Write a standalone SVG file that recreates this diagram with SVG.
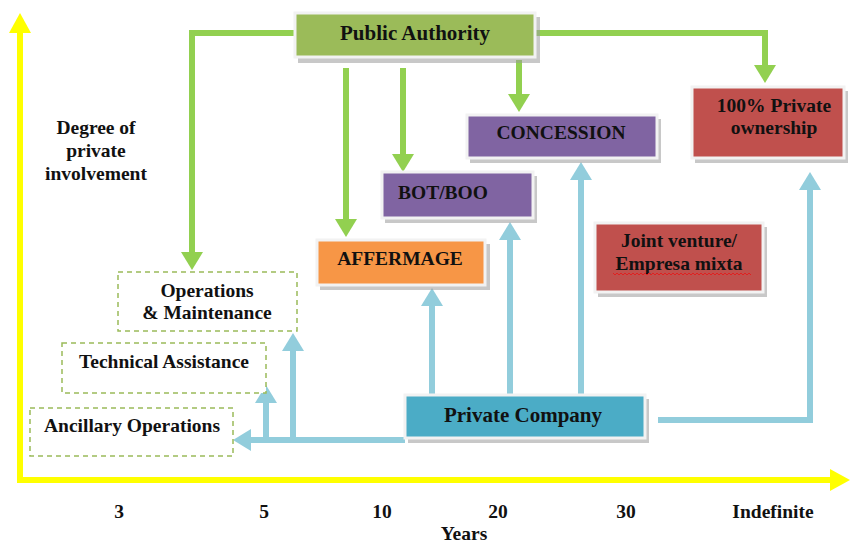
<svg xmlns="http://www.w3.org/2000/svg" width="850" height="544" viewBox="0 0 850 544">
<style>
.t{font-family:"Liberation Serif","Times New Roman",serif;font-weight:bold;font-size:19.5px;fill:#111;text-anchor:middle}
.big{font-size:21px}
.box{stroke:#f2f2f2;stroke-width:3}
.sh{fill:#9a9a9a;opacity:0.55}
.dash{fill:#fff;stroke:#9BBB59;stroke-width:1.5;stroke-dasharray:5,4}
.g{fill:none;stroke:#92D050;stroke-width:6}
.b{fill:none;stroke:#92CDDC;stroke-width:6}
.y{fill:none;stroke:#FFFF00;stroke-width:6}
</style>
<defs>
<marker id="ag" markerUnits="userSpaceOnUse" markerWidth="20" markerHeight="24" refX="0" refY="11" orient="auto"><path d="M0,0 L18,11 L0,22 z" fill="#92D050"/></marker>
<marker id="ab" markerUnits="userSpaceOnUse" markerWidth="20" markerHeight="24" refX="0" refY="11" orient="auto"><path d="M0,0 L18,11 L0,22 z" fill="#92CDDC"/></marker>
<marker id="ay" markerUnits="userSpaceOnUse" markerWidth="22" markerHeight="24" refX="0" refY="11" orient="auto"><path d="M0,0 L20,11 L0,22 z" fill="#FFFF00"/></marker>
</defs>
<rect width="850" height="544" fill="#fff"/>

<g id="axes">
<path class="y" d="M20,480 V33" marker-end="url(#ay)"/>
<path class="y" d="M17,480 H830" marker-end="url(#ay)"/>
</g>

<g id="connectors">
<path class="g" d="M295,33 H192 V252" marker-end="url(#ag)"/>
<path class="g" d="M535,33 H765 V65" marker-end="url(#ag)"/>
<path class="g" d="M346,68 V219" marker-end="url(#ag)"/>
<path class="g" d="M403,68 V154" marker-end="url(#ag)"/>
<path class="g" d="M519,60 V94" marker-end="url(#ag)"/>
<path class="b" d="M432,395 V306" marker-end="url(#ab)"/>
<path class="b" d="M510,395 V240" marker-end="url(#ab)"/>
<path class="b" d="M581,395 V180" marker-end="url(#ab)"/>
<path class="b" d="M658,420 H810 V190" marker-end="url(#ab)"/>
<path class="b" d="M405,440 H251" marker-end="url(#ab)"/>
<path class="b" d="M266,440 V403" marker-end="url(#ab)"/>
<path class="b" d="M293,440 V351" marker-end="url(#ab)"/>
</g>

<g id="public-authority">
<rect class="sh" x="298" y="17" width="242" height="46"/>
<rect class="box" x="295" y="13" width="240" height="44" fill="#9BBB59"/>
<text class="t big" x="415" y="40">Public Authority</text>
</g>

<g id="concession">
<rect class="sh" x="470" y="119" width="191" height="44"/>
<rect class="box" x="467" y="115" width="190" height="43" fill="#8064A2"/>
<text class="t" x="561" y="139">CONCESSION</text>
</g>

<g id="private-ownership">
<rect class="sh" x="695" y="91" width="153" height="72"/>
<rect class="box" x="692" y="87" width="152" height="71" fill="#C0504D"/>
<text class="t" x="774" y="112">100% Private</text>
<text class="t" x="774" y="134">ownership</text>
</g>

<g id="bot-boo">
<rect class="sh" x="385" y="176" width="152" height="47"/>
<rect class="box" x="382" y="172" width="151" height="46" fill="#8064A2"/>
<text class="t" x="443" y="199">BOT/BOO</text>
</g>

<g id="affermage">
<rect class="sh" x="320" y="244" width="170" height="46"/>
<rect class="box" x="317" y="240" width="168" height="45" fill="#F79646"/>
<text class="t" x="400" y="265">AFFERMAGE</text>
</g>

<g id="joint-venture">
<rect class="sh" x="598" y="227" width="169" height="70"/>
<rect class="box" x="595" y="223" width="168" height="69" fill="#C0504D"/>
<text class="t" x="679" y="247">Joint venture/</text>
<text class="t" x="679" y="270">Empresa mixta</text>
<path d="M613,273 l2,2 l2,-2 l2,2 l2,-2 l2,2 l2,-2 l2,2 l2,-2 l2,2 l2,-2 l2,2 l2,-2 l2,2 l2,-2 l2,2 l2,-2 l2,2 l2,-2 l2,2 l2,-2 l2,2 l2,-2 l2,2 l2,-2 l2,2 l2,-2 l2,2 l2,-2 l2,2 l2,-2 l2,2 l2,-2 l2,2 l2,-2 l2,2 l2,-2 l2,2 l2,-2 l2,2 l2,-2 l2,2 l2,-2 l2,2 l2,-2 l2,2 l2,-2 l2,2 l2,-2 l2,2 l2,-2 l2,2 l2,-2 l2,2 l2,-2 l2,2 l2,-2 l2,2 l2,-2 l2,2 l2,-2 l2,2 l2,-2 l2,2 l2,-2 l2,2 l2,-2 l2,2 l2,-2 l2,2" fill="none" stroke="#e02020" stroke-width="1"/>
</g>

<g id="private-company">
<rect class="sh" x="408" y="399" width="241" height="44"/>
<rect class="box" x="405" y="395" width="240" height="43" fill="#4BACC6"/>
<text class="t big" x="523" y="422">Private Company</text>
</g>

<g id="operations-maintenance">
<rect class="dash" x="118" y="272" width="179" height="59"/>
<text class="t" x="207" y="297">Operations</text>
<text class="t" x="207" y="319">&amp; Maintenance</text>
</g>

<g id="technical-assistance">
<rect class="dash" x="62" y="343" width="204" height="50"/>
<text class="t" x="164" y="368">Technical Assistance</text>
</g>

<g id="ancillary-operations">
<rect class="dash" x="30" y="408" width="203" height="48"/>
<text class="t" x="132" y="432">Ancillary Operations</text>
</g>

<g id="labels">
<text class="t" x="96" y="134">Degree of</text>
<text class="t" x="96" y="157">private</text>
<text class="t" x="96" y="180">involvement</text>
<text class="t" x="119" y="518">3</text>
<text class="t" x="264" y="518">5</text>
<text class="t" x="382" y="518">10</text>
<text class="t" x="498" y="518">20</text>
<text class="t" x="626" y="518">30</text>
<text class="t" x="773" y="518">Indefinite</text>
<text class="t" x="464" y="540">Years</text>
</g>
</svg>
